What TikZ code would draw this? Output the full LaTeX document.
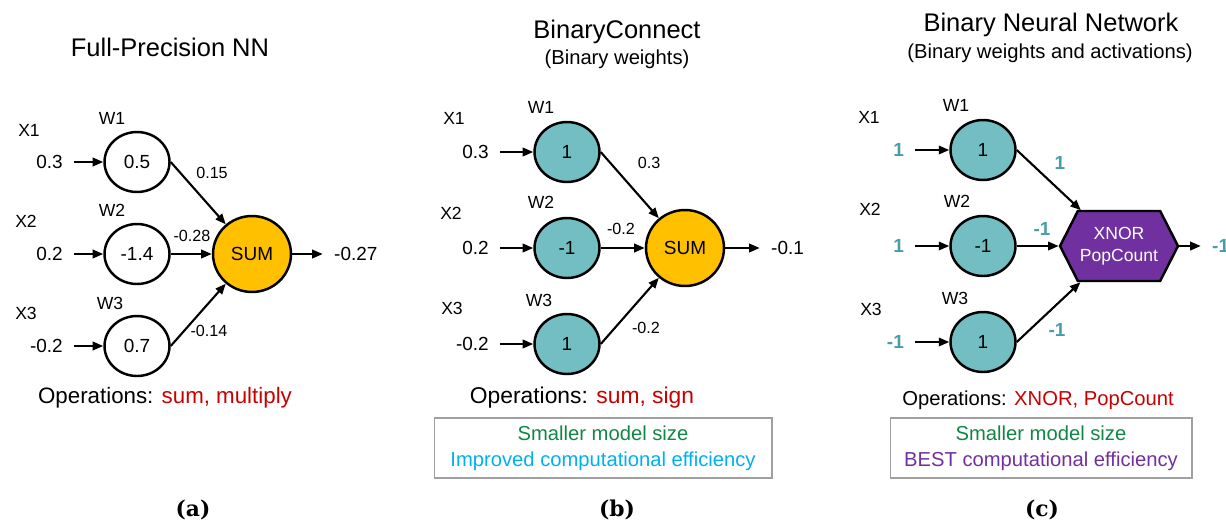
\documentclass[tikz,border=0pt]{standalone}
\usepackage{fontspec}
\setsansfont{Liberation Sans}
\newfontfamily\capfont{DejaVu Serif}
\usepackage{xcolor}
\usepackage{tikz}
\usetikzlibrary{arrows.meta}
\usetikzlibrary{shapes.geometric}
\usetikzlibrary{shapes.symbols}

\definecolor{wteal}{RGB}{114,190,195}
\definecolor{valteal}{RGB}{72,158,168}
\definecolor{sumorange}{RGB}{255,192,0}
\definecolor{xnorpurple}{RGB}{112,48,160}
\definecolor{opsred}{RGB}{200,0,0}
\definecolor{goodgreen}{RGB}{18,134,68}
\definecolor{effcyan}{RGB}{0,176,240}
\definecolor{boxgray}{RGB}{160,160,160}

\newcommand{\fsz}[1]{\fontsize{#1}{#1}\selectfont}

\begin{document}
\begin{tikzpicture}[x=0.02cm, y=-0.02cm,
    every node/.style={font=\sffamily\fsz{10.8}},
    ttl/.style={font=\sffamily\fsz{14.5}},
    subttl/.style={font=\sffamily\fsz{11.5}},
    lbl/.style={font=\sffamily\fsz{10}},
    val/.style={anchor=east, font=\sffamily\fsz{10.8}},
    bval/.style={anchor=east, text=valteal, font=\sffamily\bfseries\fsz{10.8}},
    outval/.style={anchor=west, font=\sffamily\fsz{10.8}},
    edgelbl/.style={font=\sffamily\fsz{9.2}},
    bedgelbl/.style={text=valteal, font=\sffamily\bfseries\fsz{10.8}},
    wnode/.style={ellipse, draw, line width=1.4pt, minimum width=1.3cm, minimum height=1.2cm, inner sep=0pt},
    sumnode/.style={ellipse, draw, fill=sumorange, line width=1.4pt, minimum width=1.56cm, minimum height=1.52cm, inner sep=0pt},
    xnornode/.style={signal, signal to=east and west, signal pointer angle=126, draw, fill=xnorpurple,
        line width=1.4pt, minimum width=2.36cm, minimum height=1.4cm, inner sep=0pt},
    xnortext/.style={text=white, align=center, font=\sffamily\fontsize{10}{12.5}\selectfont},
    arr/.style={-{Triangle[length=6pt,width=4.8pt]}, line width=1.2pt},
    inarr/.style={arr, shorten <=3pt},
    outarr/.style={arr, shorten >=3pt},
    opslbl/.style={font=\sffamily\fsz{12.7}},
    gainbox/.style={draw=boxgray, line width=0.6pt, align=center, inner sep=0pt, minimum height=1.2cm,
        font=\sffamily\fontsize{11.5}{14.7}\selectfont},
    caption/.style={font=\capfont\bfseries\fsz{12.4}}
    ]
    \useasboundingbox (0,0) rectangle (1226,525);

    % (a) full precision
    \node[ttl] (ttla) at (170,47) {Full-Precision NN};
    \node[lbl] (x1a) at (29,130) {X1};
    \node[lbl] (x2a) at (26,221) {X2};
    \node[lbl] (x3a) at (26,313) {X3};
    \node[lbl] (lw1a) at (112,118) {W1};
    \node[lbl] (lw2a) at (112,210) {W2};
    \node[lbl] (lw3a) at (110,303) {W3};
    \node[val] (in1a) at (69,162) {0.3};
    \node[val] (in2a) at (69,254) {0.2};
    \node[val] (in3a) at (69,346) {-0.2};
    \node[wnode] (w1a) at (137,162) {0.5};
    \node[wnode] (w2a) at (137,254) {-1.4};
    \node[wnode] (w3a) at (137,346) {0.7};
    \node[sumnode] (suma) at (252,254) {SUM};
    \node[outval] (outa) at (328,254) {-0.27};
    \node[edgelbl] (e1a) at (212,173) {0.15};
    \node[edgelbl] (e2a) at (192,236) {-0.28};
    \node[edgelbl] (e3a) at (209,331) {-0.14};
    \draw[inarr] (in1a) -- (w1a);
    \draw[inarr] (in2a) -- (w2a);
    \draw[inarr] (in3a) -- (w3a);
    \draw[arr] (w1a.east) -- (suma);
    \draw[arr] (w2a) -- (suma);
    \draw[arr] (w3a.east) -- (suma);
    \draw[outarr] (suma) -- (outa);
    \node[opslbl] (opsa) at (165,398) {Operations: \textcolor{opsred}{sum, multiply}};
    \node[caption] (capa) at (193,510) {(a)};

    % (b) binary weights
    \node[ttl] (ttlb) at (617,32) {BinaryConnect};
    \node[subttl] (subb) at (617,59) {(Binary weights)};
    \node[lbl] (x1b) at (454,118) {X1};
    \node[lbl] (x2b) at (451,213) {X2};
    \node[lbl] (x3b) at (452,308) {X3};
    \node[lbl] (lw1b) at (541,107) {W1};
    \node[lbl] (lw2b) at (541,202) {W2};
    \node[lbl] (lw3b) at (539,300) {W3};
    \node[val] (in1b) at (495,152) {0.3};
    \node[val] (in2b) at (495,248) {0.2};
    \node[val] (in3b) at (495,344) {-0.2};
    \node[wnode, fill=wteal] (w1b) at (567,152) {1};
    \node[wnode, fill=wteal] (w2b) at (567,248) {-1};
    \node[wnode, fill=wteal] (w3b) at (567,344) {1};
    \node[sumnode] (sumb) at (685,248) {SUM};
    \node[outval] (outb) at (765,248) {-0.1};
    \node[edgelbl] (e1b) at (649,163) {0.3};
    \node[edgelbl] (e2b) at (621,229) {-0.2};
    \node[edgelbl] (e3b) at (646,328) {-0.2};
    \draw[inarr] (in1b) -- (w1b);
    \draw[inarr] (in2b) -- (w2b);
    \draw[inarr] (in3b) -- (w3b);
    \draw[arr] (w1b.east) -- (sumb);
    \draw[arr] (w2b) -- (sumb);
    \draw[arr] (w3b.east) -- (sumb);
    \draw[outarr] (sumb) -- (outb);
    \node[opslbl, font=\sffamily\fsz{13}] (opsb) at (582,398) {Operations: \textcolor{opsred}{sum, sign}};
    \node[gainbox, minimum width=6.76cm] (gainb) at (603,448)
        {\textcolor{goodgreen}{Smaller model size}\\\textcolor{effcyan}{Improved computational efficiency}};
    \node[caption] (capb) at (617,510) {(b)};

    % (c) binary weights and activations
    \node[ttl] (ttlc) at (1051,25) {Binary Neural Network};
    \node[subttl] (subc) at (1050,53) {(Binary weights and activations)};
    \node[lbl] (x1c) at (869,117) {X1};
    \node[lbl] (x2c) at (870,209) {X2};
    \node[lbl] (x3c) at (871,309) {X3};
    \node[lbl] (lw1c) at (956,105) {W1};
    \node[lbl] (lw2c) at (957,201) {W2};
    \node[lbl] (lw3c) at (955,298) {W3};
    \node[bval] (in1c) at (910,150) {1};
    \node[bval] (in2c) at (910,246) {1};
    \node[bval] (in3c) at (910,342) {-1};
    \node[wnode, fill=wteal] (w1c) at (983,150) {1};
    \node[wnode, fill=wteal] (w2c) at (983,246) {-1};
    \node[wnode, fill=wteal] (w3c) at (983,342) {1};
    \node[xnornode] (xnorc) at (1119,246) {};
    \node[xnortext] (xnortxt) at (xnorc.center) {XNOR\\PopCount};
    \node[outval, text=valteal, font=\sffamily\bfseries\fsz{10.8}] (outc) at (1206,246) {-1};
    \node[bedgelbl] (e1c) at (1060,163) {1};
    \node[bedgelbl] (e2c) at (1042,229) {-1};
    \node[bedgelbl] (e3c) at (1057,330) {-1};
    \draw[inarr] (in1c) -- (w1c);
    \draw[inarr] (in2c) -- (w2c);
    \draw[inarr] (in3c) -- (w3c);
    \draw[arr] (w1c.east) -- (xnorc);
    \draw[arr] (w2c) -- (xnorc);
    \draw[arr] (w3c.east) -- (xnorc);
    \draw[outarr] (xnorc) -- (outc);
    \node[opslbl, font=\sffamily\fsz{11.5}] (opsc) at (1038,400) {Operations: \textcolor{opsred}{XNOR, PopCount}};
    \node[gainbox, minimum width=6.04cm] (gainc) at (1041,448)
        {\textcolor{goodgreen}{Smaller model size}\\\textcolor{xnorpurple}{BEST computational efficiency}};
    \node[caption] (capc) at (1042,510) {(c)};
\end{tikzpicture}
\end{document}
